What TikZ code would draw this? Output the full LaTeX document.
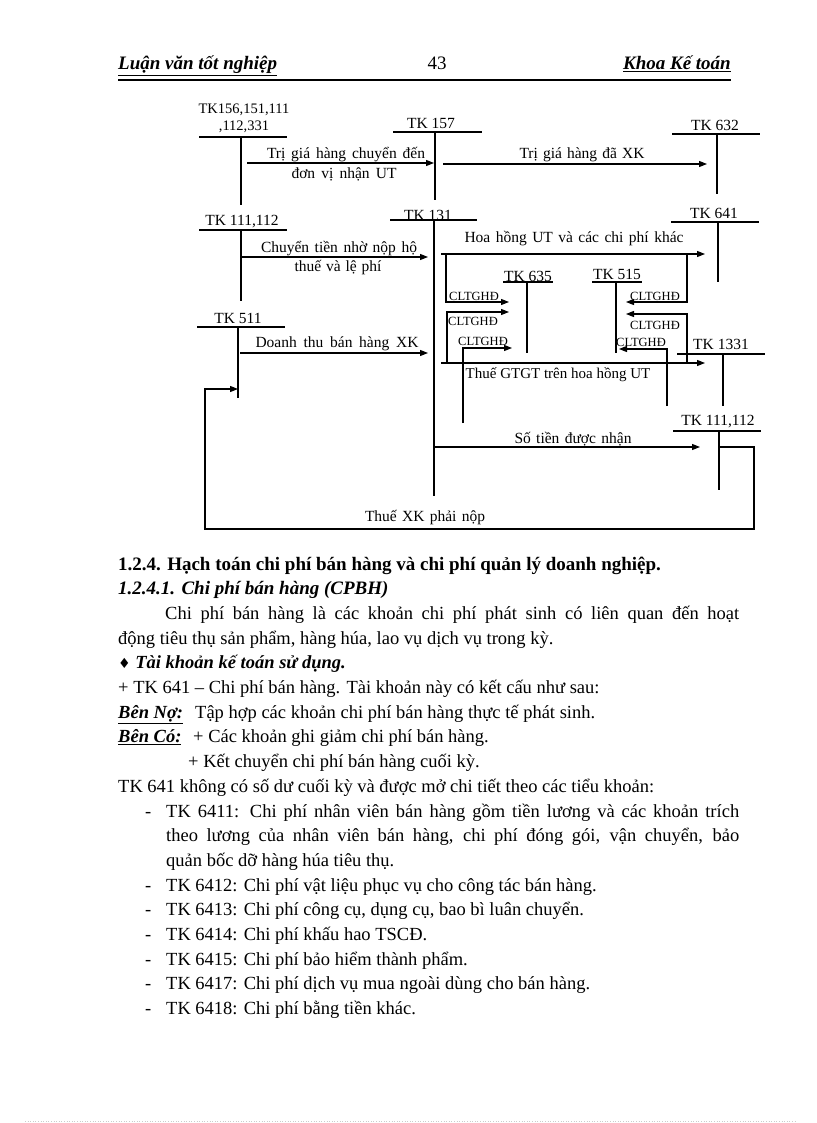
\documentclass[tikz,border=0pt]{standalone}
\usepackage{fontspec}
\setmainfont{Liberation Serif}
\newfontfamily\symf{DejaVu Sans}
\usetikzlibrary{arrows.meta}
\newcommand{\spr}[2]{\makebox[#1pt][s]{#2}}
\begin{document}
\begin{tikzpicture}[x=1pt,y=-1pt,
  ln/.style={line width=1.1pt, black},
  arr/.style={ln,-{Triangle[length=8pt,width=6pt]}},
  lab/.style={inner sep=0pt,font=\fontsize{15.5}{17}\selectfont},
  sm/.style={inner sep=0pt,font=\fontsize{12.5}{14}\selectfont},
  hdr/.style={inner sep=0pt,font=\fontsize{19}{21}\selectfont},
  body/.style={inner sep=0pt,anchor=base west,font=\fontsize{18.5}{24}\selectfont},
]
\useasboundingbox (0,0) rectangle (816,1123);
\fill[white] (0,0) rectangle (816,1123);

% header
\node[hdr,anchor=base west] (h1) at (118,70) {\bfseries\itshape\underline{Luận văn tốt nghiệp}};
\node[hdr,anchor=base] (h2) at (437,70) {43};
\node[hdr,anchor=base east] (h3) at (731,70) {\bfseries\itshape\underline{Khoa Kế toán}};
\draw[line width=2.5pt] (118,80) -- (731,80);

% ---- diagram ----
% TK156...
\node[lab,font=\fontsize{14.5}{16}\selectfont] (a1) at (244,110) {TK156,151,111};
\node[lab,font=\fontsize{14.5}{16}\selectfont] (a2) at (244,127) {,112,331};
\draw[ln] (199,137) -- (287,137);
\draw[ln] (241,137) -- (241,205);
% TK 157
\node[lab] (b1) at (431,123) {TK 157};
\draw[ln] (393,132) -- (482,132);
\draw[ln] (435,132) -- (435,200);
% TK 632
\node[lab] (c1) at (715,125) {TK 632};
\draw[ln] (672,134) -- (760,134);
\draw[ln] (717,134) -- (717,194);
\draw[arr] (247,163) -- (434,163);
\node[lab] at (346,155) {\spr{158}{Trị giá hàng chuyển đến}};
\node[lab] at (344,174) {\spr{105}{đơn vị nhận UT}};
\draw[arr] (443,164) -- (707,164);
\node[lab] at (582,155) {\spr{125}{Trị giá hàng đã XK}};

% TK 111,112 (left)
\node[lab] (d1) at (242,222) {TK 111,112};
\draw[ln] (199,230) -- (287,230);
\draw[ln] (241,230) -- (241,301);
\draw[arr] (241,257) -- (428,257);
\node[lab] at (339,249) {\spr{156}{Chuyển tiền nhờ nộp hộ}};
\node[lab] at (338,268) {\spr{87}{thuế và lệ phí}};
% TK 131
\node[lab] (e1) at (428,215) {TK 131};
\draw[ln] (390,220) -- (477,220);
\draw[ln] (434,220) -- (434,496);
% TK 511
\node[lab] (f1) at (238,318) {TK 511};
\draw[ln] (197,327) -- (285,327);
\draw[ln] (238,327) -- (238,398);
\draw[arr] (240,353) -- (428,353);
\node[lab] at (337,344) {\spr{163}{Doanh thu bán hàng XK}};
% TK 641
\node[lab] (g1) at (714,213) {TK 641};
\draw[ln] (671,222) -- (759,222);
\draw[ln] (718,222) -- (718,282);
\draw[arr] (441,254) -- (705,254);
\node[lab] at (574,239) {\spr{219}{Hoa hồng UT và các chi phí khác}};
% TK 635
\node[lab] (i1) at (528,276) {TK 635};
\draw[ln] (503,282) -- (553,282);
\draw[ln] (527,282) -- (527,353);
% TK 515
\node[lab] (j1) at (617,274) {TK 515};
\draw[ln] (592,282) -- (642,282);
\draw[ln] (616,282) -- (616,353);
% CLTGHD arrows
\draw[arr] (446,254) -- (446,302) -- (509,302);
\draw[arr] (447,363) -- (447,312) -- (509,312);
\draw[arr] (463,423) -- (463,348) -- (512,348);
\draw[arr] (687,254) -- (687,302) -- (626,302);
\draw[arr] (687,363) -- (687,314) -- (626,314);
\draw[arr] (667,406) -- (667,349) -- (619,349);
\node[sm] at (474,296) {CLTGHĐ};
\node[sm] at (473,321) {CLTGHĐ};
\node[sm] at (483,341) {CLTGHĐ};
\node[sm] at (655,296) {CLTGHĐ};
\node[sm] at (655,325) {CLTGHĐ};
\node[sm] at (641,342) {CLTGHĐ};
% TK 1331
\node[lab] (k1) at (721,344) {TK 1331};
\draw[ln] (677,354) -- (765,354);
\draw[ln] (723,354) -- (723,406);
\draw[arr] (441,363) -- (705,363);
\node[lab,font=\fontsize{15}{17}\selectfont] at (558,375) {Thuế GTGT trên hoa hồng UT};
% TK 111,112 (lower)
\node[lab] (l1) at (718,422) {TK 111,112};
\draw[ln] (673,431) -- (761,431);
\draw[ln] (719,431) -- (719,490);
\draw[arr] (434,447) -- (700,447);
\node[lab] at (573,439) {\spr{117}{Số tiền được nhận}};
\draw[arr] (720,447) -- (754,447) -- (754,529) -- (205,529) -- (205,389) -- (238,389);
\node[lab] at (425,518) {\spr{120}{Thuế XK phải nộp}};

% ---- body text ----
\node[body,font=\fontsize{19}{24}\selectfont] at (118,570) {\bfseries 1.2.4. Hạch toán chi phí bán hàng và chi phí quản lý doanh nghiệp.};
\node[body,font=\fontsize{19}{24}\selectfont] at (118,594.7) {\bfseries\itshape 1.2.4.1. Chi phí bán hàng (CPBH)};
\node[body] at (165,619.4) {\spr{574}{Chi phí bán hàng là các khoản chi phí phát sinh có liên quan đến hoạt}};
\node[body] at (118,644.1) {động tiêu thụ sản phẩm, hàng húa, lao vụ dịch vụ trong kỳ.};
\node[body] at (118,668.8) {{\symf\fontsize{14}{16}\selectfont ♦} \bfseries\itshape Tài khoản kế toán sử dụng.};
\node[body] at (118,693.5) {+ TK 641 – Chi phí bán hàng. Tài khoản này có kết cấu như sau:};
\node[body] at (118,718.2) {\bfseries\itshape\underline{Bên Nợ:}};
\node[body] at (195,718.2) {Tập hợp các khoản chi phí bán hàng thực tế phát sinh.};
\node[body] at (118,742.9) {\bfseries\itshape\underline{Bên Có:}};
\node[body] at (193,742.9) {+ Các khoản ghi giảm chi phí bán hàng.};
\node[body] at (188,767.6) {+ Kết chuyển chi phí bán hàng cuối kỳ.};
\node[body] at (118,792.3) {TK 641 không có số dư cuối kỳ và được mở chi tiết theo các tiểu khoản:};
\foreach \yy in {817,891.1,915.8,940.5,965.2,989.9,1014.6} {\node[body] at (145,\yy) {-};}
\node[body] at (166,817) {\spr{573}{TK 6411: Chi phí nhân viên bán hàng gồm tiền lương và các khoản trích}};
\node[body] at (166,841.7) {\spr{573}{theo lương của nhân viên bán hàng, chi phí đóng gói, vận chuyển, bảo}};
\node[body] at (166,866.4) {quản bốc dỡ hàng húa tiêu thụ.};
\node[body] at (166,891.1) {TK 6412: Chi phí vật liệu phục vụ cho công tác bán hàng.};
\node[body] at (166,915.8) {TK 6413: Chi phí công cụ, dụng cụ, bao bì luân chuyển.};
\node[body] at (166,940.5) {TK 6414: Chi phí khấu hao TSCĐ.};
\node[body] at (166,965.2) {TK 6415: Chi phí bảo hiểm thành phẩm.};
\node[body] at (166,989.9) {TK 6417: Chi phí dịch vụ mua ngoài dùng cho bán hàng.};
\node[body] at (166,1014.6) {TK 6418: Chi phí bằng tiền khác.};

\draw[gray!40, line width=0.6pt, dotted] (25,1121) -- (795,1121);
\end{tikzpicture}
\end{document}
